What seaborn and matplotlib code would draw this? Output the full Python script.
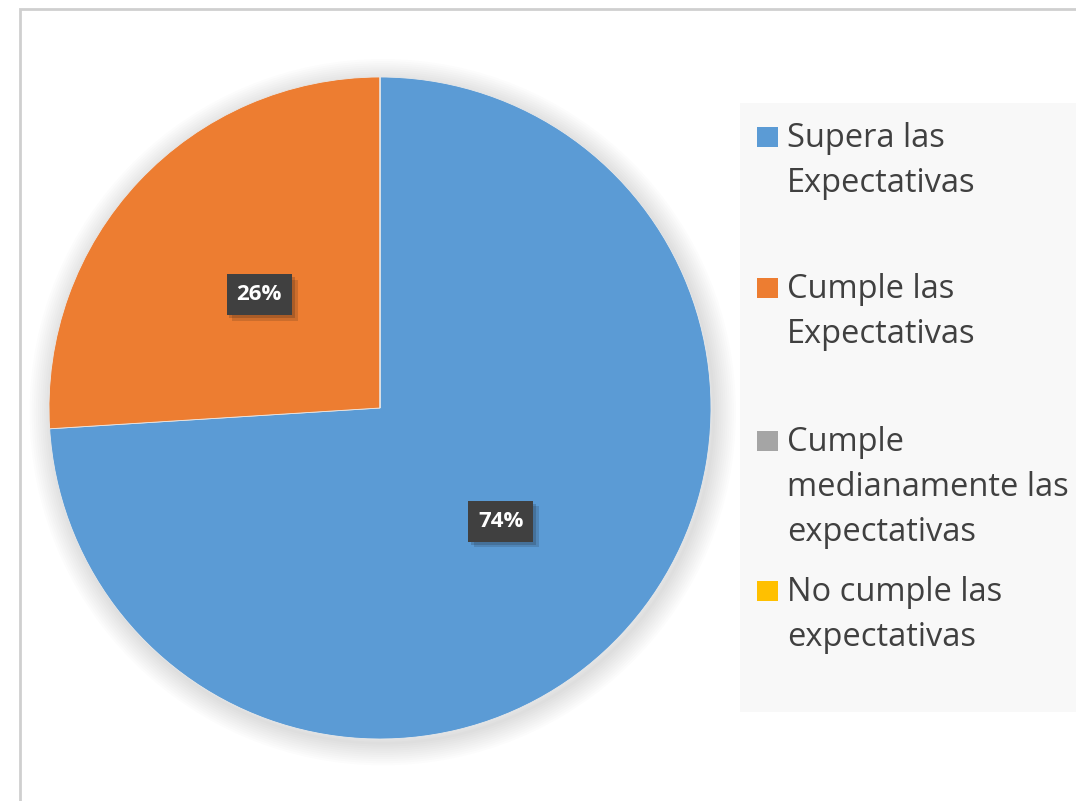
import matplotlib
matplotlib.use("Agg")
import matplotlib.pyplot as plt
import matplotlib.patheffects as pe
from matplotlib.patches import Rectangle, Circle
import seaborn as sns

# Datos
categorias = ["Supera las\nExpectativas",
              "Cumple las\nExpectativas",
              "Cumple\nmedianamente las\nexpectativas",
              "No cumple las\nexpectativas"]
porcentajes = [74, 26, 0, 0]
colores = ["#5B9BD5", "#ED7D31", "#A5A5A5", "#FFC000"]

sns.set_style("white")
plt.rcParams['font.family'] = ['Open Sans', 'DejaVu Sans']

W, H = 1076, 801
fig = plt.figure(figsize=(W / 100, H / 100), dpi=100)
fig.patch.set_facecolor("white")

# Marco del gráfico (se corta a la derecha y abajo)
fig.patches.append(Rectangle((20 / W, -0.1), 1.2, 1.1 - 9 / H, transform=fig.transFigure,
                             fill=False, edgecolor="#cfcfcf", linewidth=2, zorder=0))

# Pastel
cx, cy, r = 380, 408, 331
ax = fig.add_axes([(cx - r) / W, 1 - (cy + r) / H, 2 * r / W, 2 * r / H])

# sombra difusa detrás del pastel
sombra = Circle((0, 0), 1, facecolor="white", edgecolor="none", zorder=0, clip_on=False)
efectos = [pe.Stroke(linewidth=lw, foreground="black", alpha=0.012, offset=(2, -3))
           for lw in range(32, 0, -3)]
sombra.set_path_effects(efectos + [pe.Normal()])
ax.add_patch(sombra)

wedges, texts, autotexts = ax.pie(
    porcentajes, colors=colores, startangle=90, counterclock=False,
    autopct=lambda p: f"{p:.0f}%" if p > 0 else "", pctdistance=0.5,
    wedgeprops=dict(linewidth=0.6, edgecolor="#e8e8e8"),
    textprops=dict(color="white", fontsize=16, fontweight="bold"))
for t in autotexts:
    if t.get_text():
        t.set_bbox(dict(boxstyle="square,pad=0.45", facecolor="#404040", edgecolor="none"))
        t.get_bbox_patch().set_path_effects(
            [pe.SimplePatchShadow(offset=(4, -4), alpha=0.15),
             pe.SimplePatchShadow(offset=(2, -2), alpha=0.18), pe.Normal()])
ax.set_xlim(-1, 1)
ax.set_ylim(-1, 1)
ax.set_aspect("equal")
ax.axis("off")

# Leyenda
fig.patches.append(Rectangle((740 / W, 1 - 712 / H), 1, (712 - 103) / H,
                             transform=fig.transFigure, facecolor="#f8f8f8",
                             edgecolor="none", zorder=0))
y_base = [147, 298, 451, 601]  # línea base de la primera línea de cada entrada
for lab, col, yb in zip(categorias, colores, y_base):
    fig.patches.append(Rectangle((757 / W, 1 - yb / H), 21 / W, 20 / H,
                                 transform=fig.transFigure, facecolor=col,
                                 edgecolor="none", zorder=2))
    fig.text(787 / W, 1 - (yb - 25) / H, lab, fontsize=23.5, color="#404040",
             va="top", ha="left", linespacing=1.48)

fig.savefig("out.png", dpi=100)
